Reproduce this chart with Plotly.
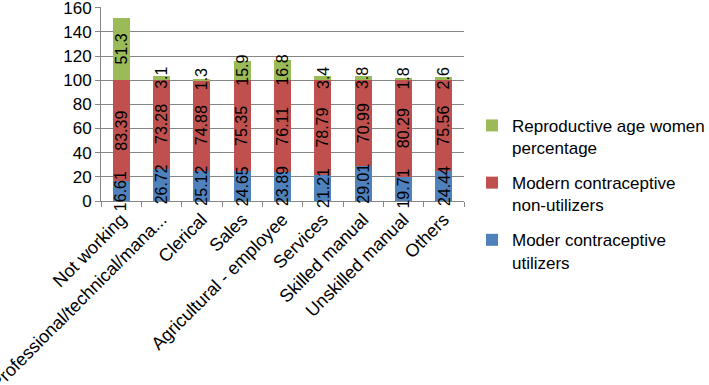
import plotly.graph_objects as go

categories = ["Not working", "Professional/technical/mana...", "Clerical", "Sales",
              "Agricultural - employee", "Services", "Skilled manual", "Unskilled manual", "Others"]
utilizers = [16.61, 26.72, 25.12, 24.65, 23.89, 21.21, 29.01, 19.71, 24.44]
non_utilizers = [83.39, 73.28, 74.88, 75.35, 76.11, 78.79, 70.99, 80.29, 75.56]
reproductive = [51.3, 3.1, 1.3, 15.9, 16.8, 3.4, 3.8, 1.8, 2.6]
y_ticks = [0, 20, 40, 60, 80, 100, 120, 140, 160]

series = [
    ("Moder contraceptive<br>utilizers", utilizers, "#4F81BD"),
    ("Modern contraceptive<br>non-utilizers", non_utilizers, "#C0504D"),
    ("Reproductive age women<br>percentage", reproductive, "#9BBB59"),
]

FONT = "Liberation Sans, Arial, sans-serif"
fig = go.Figure()
annotations = []
base = [0.0] * len(categories)
for i, (name, vals, color) in enumerate(series):
    fig.add_trace(go.Bar(x=categories, y=vals, name=name, marker_color=color,
                         marker_line_width=0, legendgroup=f"g{i}",
                         legendrank=len(series) - i))
    for c, b, v in zip(categories, base, vals):
        annotations.append(dict(x=c, y=b + v / 2, text=f"{v:g}", textangle=-90,
                                showarrow=False, xref="x", yref="y",
                                font=dict(size=16, color="black", family=FONT)))
    base = [b + v for b, v in zip(base, vals)]

fig.update_layout(
    barmode="stack",
    bargap=0.58,
    width=709, height=385,
    margin=dict(l=101, r=245, t=7, b=184, autoexpand=False),
    paper_bgcolor="white", plot_bgcolor="white",
    font=dict(family=FONT, color="black"),
    annotations=annotations,
    showlegend=True,
    legend=dict(traceorder="grouped", x=1.022, xanchor="left", y=0.48, yanchor="top",
                font=dict(size=17, family=FONT), valign="top", tracegroupgap=10,
                bgcolor="rgba(0,0,0,0)", itemwidth=30),
)
fig.update_yaxes(range=[0, 160.6], tickmode="array", tickvals=y_ticks,
                 showgrid=True, gridcolor="#868686", gridwidth=1,
                 showline=True, linecolor="#868686", ticks="outside", ticklen=5,
                 tickcolor="#868686", tickfont=dict(size=17), zeroline=False,
                 automargin=False, ticklabeloverflow="allow")
fig.update_xaxes(showline=True, linecolor="#868686", ticks="outside", ticklen=5,
                 tickcolor="#868686", tickson="boundaries", tickangle=-45,
                 tickfont=dict(size=18), automargin=False, showgrid=False)

fig.write_html("out.html", config={"displayModeBar": False},
               post_script="document.body.style.margin='0';")
